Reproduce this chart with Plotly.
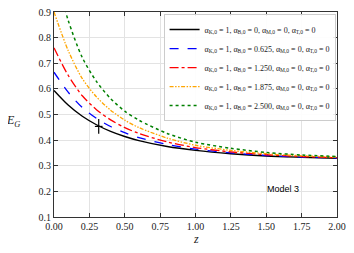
import plotly.graph_objects as go

z = [0.0, 0.1, 0.2, 0.3, 0.4, 0.5, 0.6, 0.8, 1.0, 1.25, 1.5, 1.75, 2.0]
eg_b0000 = [0.594, 0.537, 0.493, 0.460, 0.434, 0.414, 0.398, 0.375, 0.360, 0.347, 0.338, 0.333, 0.329]
eg_b0625 = [0.665, 0.587, 0.527, 0.485, 0.453, 0.429, 0.410, 0.383, 0.365, 0.350, 0.340, 0.334, 0.330]
eg_b1250 = [0.760, 0.653, 0.573, 0.519, 0.479, 0.449, 0.426, 0.393, 0.371, 0.354, 0.343, 0.336, 0.331]
eg_b1875 = [0.900, 0.750, 0.640, 0.569, 0.517, 0.478, 0.449, 0.408, 0.380, 0.360, 0.347, 0.339, 0.334]
eg_b2500 = [1.069, 0.868, 0.722, 0.629, 0.562, 0.513, 0.478, 0.426, 0.392, 0.368, 0.352, 0.342, 0.336]

obs_z = [0.316]
obs_eg = [0.4535]
obs_zerr = [0.027]
obs_egerr = [0.029]

alpha_b_labels = ["0", "0.625", "1.250", "1.875", "2.500"]
series = [eg_b0000, eg_b0625, eg_b1250, eg_b1875, eg_b2500]
colors = ["black", "#0000ff", "#ff0000", "#ffa500", "#008000"]
dashes = ["solid", "dash", "dashdot", "4px,1.5px,1.5px,1.5px,1.5px,1.5px", "dot"]
widths = [1.4, 1.3, 1.3, 1.3, 1.5]

def lab(b):
    s = '<span style="font-size:5.5px">'
    return ("α" + "<sub>" + s + "K,0</span></sub> = 1, "
            "α" + "<sub>" + s + "B,0</span></sub> = " + b + ", "
            "α" + "<sub>" + s + "M,0</span></sub> = 0, "
            "α" + "<sub>" + s + "T,0</span></sub> = 0")

fig = go.Figure()
for ys, c, d, w, b in zip(series, colors, dashes, widths, alpha_b_labels):
    fig.add_trace(go.Scatter(x=z, y=ys, mode="lines", name=lab(b),
                             line=dict(color=c, dash=d, width=w, shape="spline", smoothing=0.8)))

fig.add_trace(go.Scatter(x=obs_z, y=obs_eg, mode="markers", showlegend=False,
                         marker=dict(size=1, color="black"),
                         error_x=dict(type="data", array=obs_zerr, width=0, color="black", thickness=1.2),
                         error_y=dict(type="data", array=obs_egerr, width=0, color="black", thickness=1.2)))

fig.add_annotation(x=1.62, y=0.211, text="Model 3", showarrow=False,
                   font=dict(family="Liberation Sans, Arial", size=9, color="black"))
fig.add_annotation(xref="paper", yref="paper", x=-0.145, y=0.47, text="<i>E</i><sub><i>G</i></sub>",
                   showarrow=False, xanchor="center", yanchor="middle",
                   font=dict(family="Liberation Serif, serif", size=12, color="#222"))
fig.add_annotation(xref="paper", yref="paper", x=0.5, y=-0.107, text="<i>z</i>",
                   showarrow=False, xanchor="center", yanchor="middle",
                   font=dict(family="Liberation Serif, serif", size=12, color="#222"))

axis_common = dict(showgrid=True, gridcolor="#e3e3e3", gridwidth=1, zeroline=False,
                   showline=True, linecolor="#333333", linewidth=1, mirror="ticks",
                   ticks="inside", ticklen=4, tickcolor="#333333", automargin=False,
                   ticklabeloverflow="allow",
                   tickfont=dict(family="Liberation Serif, DejaVu Serif, serif", size=10, color="#222"))

fig.update_layout(
    width=346, height=245,
    margin=dict(l=46, r=17, t=4, b=36),
    paper_bgcolor="white", plot_bgcolor="white",
    xaxis=dict(range=[0, 2], tickvals=[0, 0.25, 0.5, 0.75, 1.0, 1.25, 1.5, 1.75, 2.0],
               tickformat=".2f", **axis_common),
    yaxis=dict(range=[0.1, 0.9], dtick=0.1, tickformat=".1f", **axis_common),
    legend=dict(x=0.995, y=0.99, xanchor="right", yanchor="top",
                bgcolor="rgba(255,255,255,0.9)", bordercolor="#cccccc", borderwidth=1,
                font=dict(family="Liberation Serif, DejaVu Serif, serif", size=8, color="#222"),
                tracegroupgap=0, itemwidth=30),
    showlegend=True,
)

fig.write_html("out.html")
